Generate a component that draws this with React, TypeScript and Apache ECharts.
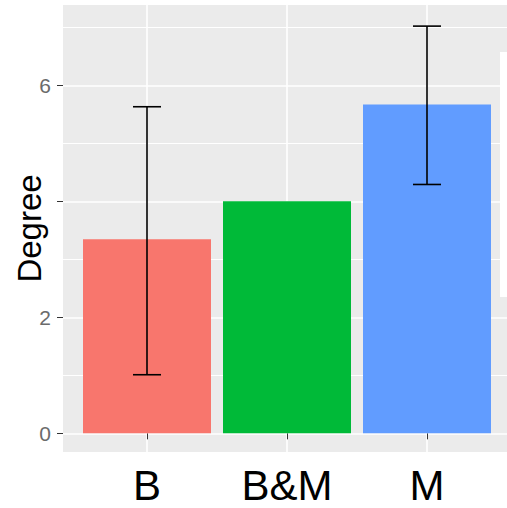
import React, { useEffect, useRef } from "react";
import * as echarts from "echarts";

const categories = ["B", "B&M", "M"];
const positions = [1, 2, 3];
const means = [3.345, 4.0, 5.67];
const errLow: (number | null)[] = [1.01, null, 4.29];
const errHigh: (number | null)[] = [5.63, null, 7.02];
const colors = ["#F8766D", "#00BA38", "#619CFF"];
const yMajorTicks = [0, 2, 4, 6];
const yLabelTicks = [0, 2, 6];
const yMinorTicks = [1, 3, 5, 7];

export default function App() {
  const ref = useRef<HTMLDivElement>(null);
  useEffect(() => {
    if (!ref.current) return;
    const chart = echarts.init(ref.current, null, { renderer: "svg" });
    const errData = positions
      .map((p, i) => [p, errLow[i], errHigh[i]])
      .filter((d) => d[1] != null && d[2] != null);
    const yMin = -0.322;
    const yMax = 7.384;
    chart.setOption({
      animation: false,
      backgroundColor: "#FFFFFF",
      grid: {
        left: 63,
        top: 5,
        width: 448,
        height: 447,
        show: true,
        backgroundColor: "#EBEBEB",
        borderWidth: 0,
        containLabel: false,
        outerBoundsMode: "none",
      },
      xAxis: {
        type: "value",
        min: 0.4,
        max: 3.6,
        axisLine: { show: false },
        axisTick: {
          show: true,
          length: 6,
          customValues: positions,
          lineStyle: { color: "#333333", width: 1 },
        },
        axisLabel: {
          customValues: positions,
          formatter: (v: number) => categories[Math.round(v) - 1] ?? "",
          fontFamily: "Liberation Sans",
          fontSize: 42,
          color: "#000000",
          margin: 12,
        },
        splitLine: { show: true, lineStyle: { color: "#FFFFFF", width: 1.6 } },
      },
      yAxis: [
        {
          type: "value",
          min: yMin,
          max: yMax,
          name: "Degree",
          nameLocation: "middle",
          nameGap: 17,
          nameMoveOverlap: false,
          nameTextStyle: { fontFamily: "Liberation Sans", fontSize: 33, color: "#000000" },
          axisLine: { show: false },
          axisTick: {
            show: true,
            length: 6,
            customValues: yMajorTicks,
            lineStyle: { color: "#333333", width: 1 },
          },
          axisLabel: {
            customValues: yLabelTicks,
            fontFamily: "Liberation Sans",
            fontSize: 21,
            color: "#6B6B6B",
            margin: 12,
          },
          splitLine: { show: true, lineStyle: { color: "#FFFFFF", width: 1.6 } },
        },
        {
          type: "value",
          min: yMin,
          max: yMax,
          axisLine: { show: false },
          axisTick: { show: false, customValues: yMinorTicks },
          axisLabel: { show: false, customValues: yMinorTicks },
          splitLine: { show: true, lineStyle: { color: "#FFFFFF", width: 1 } },
        },
      ],
      graphic: [
        {
          type: "rect",
          right: 0,
          top: 52,
          shape: { width: 7, height: 245 },
          style: { fill: "#FFFFFF" },
          z: 100,
        },
      ],
      series: [
        {
          type: "bar",
          barWidth: 128,
          data: positions.map((p, i) => ({
            value: [p, means[i]],
            itemStyle: { color: colors[i] },
          })),
          z: 2,
        },
        {
          type: "custom",
          clip: false,
          z: 3,
          data: errData,
          renderItem: (params: any, api: any) => {
            const x = api.value(0);
            const lo = api.value(1);
            const hi = api.value(2);
            const top = api.coord([x, hi]);
            const bot = api.coord([x, lo]);
            const tl = api.coord([x - 0.1, hi]);
            const tr = api.coord([x + 0.1, hi]);
            const bl = api.coord([x - 0.1, lo]);
            const br = api.coord([x + 0.1, lo]);
            const style = { stroke: "#000000", lineWidth: 1.6 };
            return {
              type: "group",
              children: [
                { type: "line", shape: { x1: top[0], y1: top[1], x2: bot[0], y2: bot[1] }, style },
                { type: "line", shape: { x1: tl[0], y1: tl[1], x2: tr[0], y2: tr[1] }, style },
                { type: "line", shape: { x1: bl[0], y1: bl[1], x2: br[0], y2: br[1] }, style },
              ],
            };
          },
        },
      ],
    });
    return () => chart.dispose();
  }, []);
  return (
    <div
      ref={ref}
      style={{ position: "fixed", left: 0, top: 0, width: 507, height: 508 }}
    />
  );
}
